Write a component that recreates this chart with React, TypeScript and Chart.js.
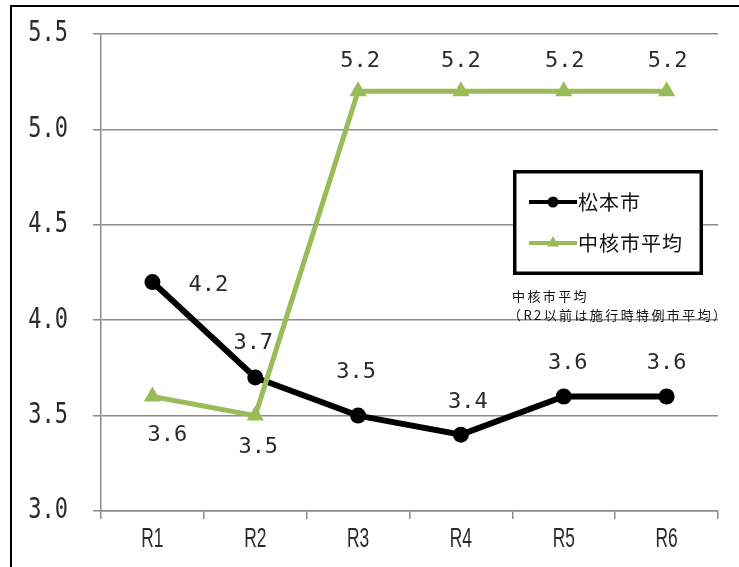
import React, { useEffect, useRef } from "react";
import { Chart, registerables } from "chart.js";

Chart.register(...registerables);

const categories = ["R1", "R2", "R3", "R4", "R5", "R6"];
const matsumotoValues = [4.2, 3.7, 3.5, 3.4, 3.6, 3.6];
const chukakuValues = [3.6, 3.5, 5.2, 5.2, 5.2, 5.2];
const seriesNames = ["松本市", "中核市平均"];
const noteLines = ["中核市平均", "（R2以前は施行時特例市平均）"];
const yMin = 3.0;
const yMax = 5.5;
const yStep = 0.5;

const BLACK = "#000000";
const GREEN = "#9BBB59";
const GRID = "#8c8c8c";
const NUM_FONT = "'DejaVu Sans Mono', monospace";
const JP_FONT = "'Noto Sans CJK JP', sans-serif";

// label offsets (dx, dy) from each point, per dataset
const labelOffsets: number[][][] = [
  [[56, 3], [-2, -34], [-2, -43], [7, -32], [4, -33], [0, -33]],
  [[15, 39], [3, 32], [2, -30], [0, -30], [1, -30], [1, -30]],
];

function drawTriangle(ctx: CanvasRenderingContext2D, x: number, y: number, r: number) {
  ctx.beginPath();
  for (let i = 0; i < 3; i++) {
    const a = (i * 2 * Math.PI) / 3;
    const px = x + Math.sin(a) * r;
    const py = y - Math.cos(a) * r;
    if (i === 0) ctx.moveTo(px, py);
    else ctx.lineTo(px, py);
  }
  ctx.closePath();
  ctx.fill();
}

const framePlugin = {
  id: "frame",
  beforeDraw(chart: any) {
    const ctx = chart.ctx;
    ctx.save();
    ctx.fillStyle = "#ffffff";
    ctx.fillRect(0, 0, chart.width, chart.height);
    ctx.strokeStyle = "#000";
    ctx.lineWidth = 2;
    ctx.beginPath();
    ctx.moveTo(11, chart.height);
    ctx.lineTo(11, 6);
    ctx.lineTo(chart.width, 6);
    ctx.stroke();
    ctx.restore();
  },
};

// draws axis tick labels through the chart's own scales (narrow / tall glyphs)
const axisLabelPlugin = {
  id: "axisLabels",
  afterDraw(chart: any) {
    const ctx = chart.ctx;
    const ys = chart.scales.y;
    const xs = chart.scales.x;
    ctx.save();
    ctx.fillStyle = "#2a2a2a";
    ctx.textBaseline = "middle";
    ctx.font = `22px ${NUM_FONT}`;
    ctx.textAlign = "right";
    ys.ticks.forEach((t: any) => {
      const py = ys.getPixelForValue(t.value);
      ctx.save();
      ctx.translate(68, py);
      ctx.scale(1, 1.3);
      ctx.fillText(Number(t.value).toFixed(1), 0, 0);
      ctx.restore();
    });
    ctx.font = `28px 'Liberation Sans', sans-serif`;
    ctx.textAlign = "center";
    categories.forEach((c, i) => {
      const px = xs.getPixelForValue(i);
      ctx.save();
      ctx.translate(px, xs.top + 28);
      ctx.scale(0.62, 1);
      ctx.fillText(c, 0, 0);
      ctx.restore();
    });
    ctx.restore();
  },
};

const labelPlugin = {
  id: "valueLabels",
  afterDatasetsDraw(chart: any) {
    const ctx = chart.ctx;
    ctx.save();
    ctx.font = `22px ${NUM_FONT}`;
    ctx.fillStyle = "#2a2a2a";
    ctx.textAlign = "center";
    ctx.textBaseline = "middle";
    chart.data.datasets.forEach((ds: any, di: number) => {
      const meta = chart.getDatasetMeta(di);
      meta.data.forEach((pt: any, i: number) => {
        const off = labelOffsets[di][i];
        ctx.fillText(ds.data[i].toFixed(1), pt.x + off[0], pt.y + off[1]);
      });
    });
    ctx.restore();
  },
  afterDraw(chart: any) {
    const ctx = chart.ctx;
    ctx.save();
    // legend box
    const bx = 514.75, by = 171.75, bw = 186.5, bh = 101.5;
    ctx.fillStyle = "#fff";
    ctx.fillRect(bx, by, bw, bh);
    ctx.strokeStyle = "#000";
    ctx.lineWidth = 3.5;
    ctx.strokeRect(bx, by, bw, bh);
    const rows = [
      { y: 202, color: BLACK, shape: "circle" },
      { y: 243, color: GREEN, shape: "triangle" },
    ];
    rows.forEach((r, i) => {
      ctx.strokeStyle = r.color;
      ctx.fillStyle = r.color;
      ctx.lineWidth = 4;
      ctx.beginPath();
      ctx.moveTo(529, r.y);
      ctx.lineTo(577, r.y);
      ctx.stroke();
      if (r.shape === "circle") {
        ctx.beginPath();
        ctx.arc(553, r.y, 5.5, 0, Math.PI * 2);
        ctx.fill();
      } else {
        drawTriangle(ctx, 553, r.y, 7);
      }
      ctx.fillStyle = "#111";
      ctx.font = `20px ${JP_FONT}`;
      (ctx as any).letterSpacing = "1px";
      ctx.textAlign = "left";
      ctx.textBaseline = "middle";
      ctx.fillText(seriesNames[i], 578, r.y);
    });
    // note
    ctx.fillStyle = "#111";
    ctx.font = `13px ${JP_FONT}`;
    (ctx as any).letterSpacing = "2.4px";
    ctx.textAlign = "left";
    ctx.textBaseline = "middle";
    ctx.fillText(noteLines[0], 512, 296);
    ctx.fillText(noteLines[1], 508, 315);
    ctx.restore();
  },
};

export default function App() {
  const canvasRef = useRef<HTMLCanvasElement | null>(null);

  useEffect(() => {
    const canvas = canvasRef.current;
    if (!canvas) return;
    const chart = new Chart(canvas, {
      type: "line",
      data: {
        labels: categories,
        datasets: [
          {
            label: seriesNames[0],
            data: matsumotoValues,
            borderColor: BLACK,
            backgroundColor: BLACK,
            borderWidth: 6,
            pointStyle: "circle",
            pointRadius: 8,
            pointBorderWidth: 0,
            pointBackgroundColor: BLACK,
            tension: 0,
            order: 1,
          },
          {
            label: seriesNames[1],
            data: chukakuValues,
            borderColor: GREEN,
            backgroundColor: GREEN,
            borderWidth: 5,
            pointStyle: "triangle",
            pointRadius: 10,
            pointBorderWidth: 0,
            pointBackgroundColor: GREEN,
            tension: 0,
            order: 0,
          },
        ],
      },
      options: {
        animation: false,
        responsive: false,
        devicePixelRatio: 1,
        layout: { padding: { left: 0, top: 34, right: 21, bottom: 0 } },
        plugins: {
          legend: { display: false },
          tooltip: { enabled: false },
          title: { display: false },
        },
        scales: {
          x: {
            type: "category",
            offset: true,
            grid: {
              offset: true,
              drawOnChartArea: false,
              drawTicks: true,
              tickLength: 8,
              color: GRID,
              lineWidth: 1.5,
            },
            border: { display: true, color: GRID, width: 1.5 },
            ticks: { display: false },
            afterFit: (s: any) => {
              s.height = 56;
            },
          },
          y: {
            min: yMin,
            max: yMax,
            grid: {
              color: GRID,
              lineWidth: 1.5,
              drawTicks: true,
              tickLength: 8,
            },
            border: { display: true, color: GRID, width: 1.5 },
            ticks: {
              stepSize: yStep,
              display: false,
            },
            afterFit: (s: any) => {
              s.width = 101;
            },
          },
        },
      },
      plugins: [framePlugin, axisLabelPlugin, labelPlugin],
    });
    return () => chart.destroy();
  }, []);

  return (
    <div
      style={{
        position: "fixed",
        left: 0,
        top: 0,
        width: 739,
        height: 567,
        background: "#fff",
      }}
    >
      <canvas ref={canvasRef} width={739} height={567} style={{ width: 739, height: 567, display: "block" }} />
    </div>
  );
}
